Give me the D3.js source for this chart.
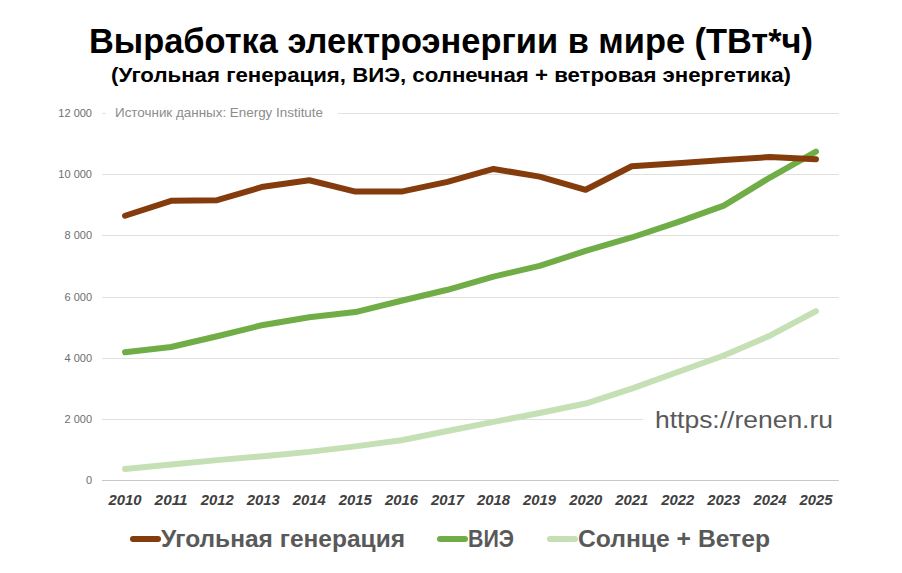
<!DOCTYPE html>
<html>
<head>
<meta charset="utf-8">
<script src="https://cdn.jsdelivr.net/npm/d3@7"></script>
<style>
  body { margin: 0; background: #fff; }
  svg text { font-family: "Liberation Sans", Arial, sans-serif; }
</style>
</head>
<body>
<div id="chart"></div>
<script>
// данные (ТВт*ч)
const years = ["2010","2011","2012","2013","2014","2015","2016","2017","2018","2019","2020","2021","2022","2023","2024","2025"];
const coal = [8640, 9130, 9150, 9590, 9800, 9430, 9430, 9750, 10170, 9920, 9490, 10260, 10360, 10460, 10560, 10490];
const renewables = [4180, 4350, 4700, 5070, 5320, 5490, 5860, 6220, 6650, 7000, 7490, 7930, 8430, 8970, 9890, 10740];
const solarWind = [360, 510, 650, 780, 920, 1100, 1300, 1600, 1900, 2190, 2500, 2990, 3530, 4070, 4720, 5520];
const yTicks = [0, 2000, 4000, 6000, 8000, 10000, 12000];

const seriesNames = ["Угольная генерация", "ВИЭ", "Солнце + Ветер"];
const seriesColors = ["#843c0c", "#70ad47", "#c5e0b4"];

const width = 902, height = 573;
const margin = {top: 113, right: 63, bottom: 93, left: 102};

const svg = d3.select("#chart").append("svg")
    .attr("width", width)
    .attr("height", height);

const x = d3.scalePoint()
    .domain(years)
    .range([margin.left, width - margin.right])
    .padding(0.5);

const y = d3.scaleLinear()
    .domain([0, 12000])
    .range([height - margin.bottom, margin.top]);

const fmt = v => d3.format(",")(v).replace(/,/g, " ");

// сетка
svg.append("g")
    .selectAll("line")
    .data(yTicks)
    .join("line")
    .attr("x1", margin.left)
    .attr("x2", width - margin.right)
    .attr("y1", d => Math.round(y(d)) + 0.5)
    .attr("y2", d => Math.round(y(d)) + 0.5)
    .attr("stroke", d => d === 0 ? "#c8c8c8" : "#e0e0e0")
    .attr("stroke-width", 1);

// подписи оси Y
svg.append("g")
    .selectAll("text")
    .data(yTicks)
    .join("text")
    .attr("x", margin.left - 10)
    .attr("y", d => y(d) + 4)
    .attr("text-anchor", "end")
    .attr("font-size", 11)
    .attr("fill", "#6e6e6e")
    .text(d => fmt(d));

// подписи оси X
svg.append("g")
    .selectAll("text")
    .data(years)
    .join("text")
    .attr("x", d => x(d))
    .attr("y", height - margin.bottom + 25)
    .attr("text-anchor", "middle")
    .attr("font-size", 14)
    .attr("font-weight", "bold")
    .attr("font-style", "italic")
    .attr("fill", "#404040")
    .attr("textLength", 33)
    .attr("lengthAdjust", "spacingAndGlyphs")
    .text(d => d);

// источник
const src = svg.append("g");
src.append("rect")
    .attr("x", margin.left + 4).attr("y", y(12000) - 8)
    .attr("width", 232).attr("height", 16)
    .attr("fill", "#fff");
src.append("text")
    .attr("x", 115)
    .attr("y", y(12000) + 4)
    .attr("font-size", 13)
    .attr("fill", "#8c8c8c")
    .attr("textLength", 208)
    .attr("lengthAdjust", "spacingAndGlyphs")
    .text("Источник данных: Energy Institute");

// водяной знак
const wm = svg.append("g");
wm.append("rect")
    .attr("x", 643).attr("y", y(2000) - 12)
    .attr("width", 200).attr("height", 26)
    .attr("fill", "#fff");
wm.append("text")
    .attr("x", 655)
    .attr("y", 428)
    .attr("font-size", 24)
    .attr("fill", "#595959")
    .attr("textLength", 178)
    .attr("lengthAdjust", "spacingAndGlyphs")
    .text("https://renen.ru");

// линии
const line = d3.line()
    .x((d, i) => x(years[i]))
    .y(d => y(d));

const allSeries = [coal, renewables, solarWind];
[2, 1, 0].forEach(i => {
    svg.append("path")
        .datum(allSeries[i])
        .attr("d", line)
        .attr("fill", "none")
        .attr("stroke", seriesColors[i])
        .attr("stroke-width", 6)
        .attr("stroke-linejoin", "round")
        .attr("stroke-linecap", "round");
});

// заголовок
svg.append("text")
    .attr("x", width / 2)
    .attr("y", 53)
    .attr("text-anchor", "middle")
    .attr("font-size", 35)
    .attr("font-weight", "bold")
    .attr("fill", "#000")
    .attr("textLength", 724)
    .attr("lengthAdjust", "spacingAndGlyphs")
    .text("Выработка электроэнергии в мире (ТВт*ч)");

svg.append("text")
    .attr("x", width / 2)
    .attr("y", 82)
    .attr("text-anchor", "middle")
    .attr("font-size", 20)
    .attr("font-weight", "bold")
    .attr("fill", "#000")
    .attr("textLength", 680)
    .attr("lengthAdjust", "spacingAndGlyphs")
    .text("(Угольная генерация, ВИЭ, солнечная + ветровая энергетика)");

// легенда
const legendItems = [
    {name: seriesNames[0], color: seriesColors[0], x: 130, w: 244},
    {name: seriesNames[1], color: seriesColors[1], x: 437, w: 46},
    {name: seriesNames[2], color: seriesColors[2], x: 547, w: 192}
];
const lg = svg.append("g");
legendItems.forEach(it => {
    lg.append("line")
        .attr("x1", it.x + 3).attr("x2", it.x + 28)
        .attr("y1", 539).attr("y2", 539)
        .attr("stroke", it.color)
        .attr("stroke-width", 6)
        .attr("stroke-linecap", "round");
    lg.append("text")
        .attr("x", it.x + 31)
        .attr("y", 547)
        .attr("font-size", 23)
        .attr("font-weight", "bold")
        .attr("fill", "#595959")
        .attr("textLength", it.w)
        .attr("lengthAdjust", "spacingAndGlyphs")
        .text(it.name);
});
</script>
</body>
</html>
